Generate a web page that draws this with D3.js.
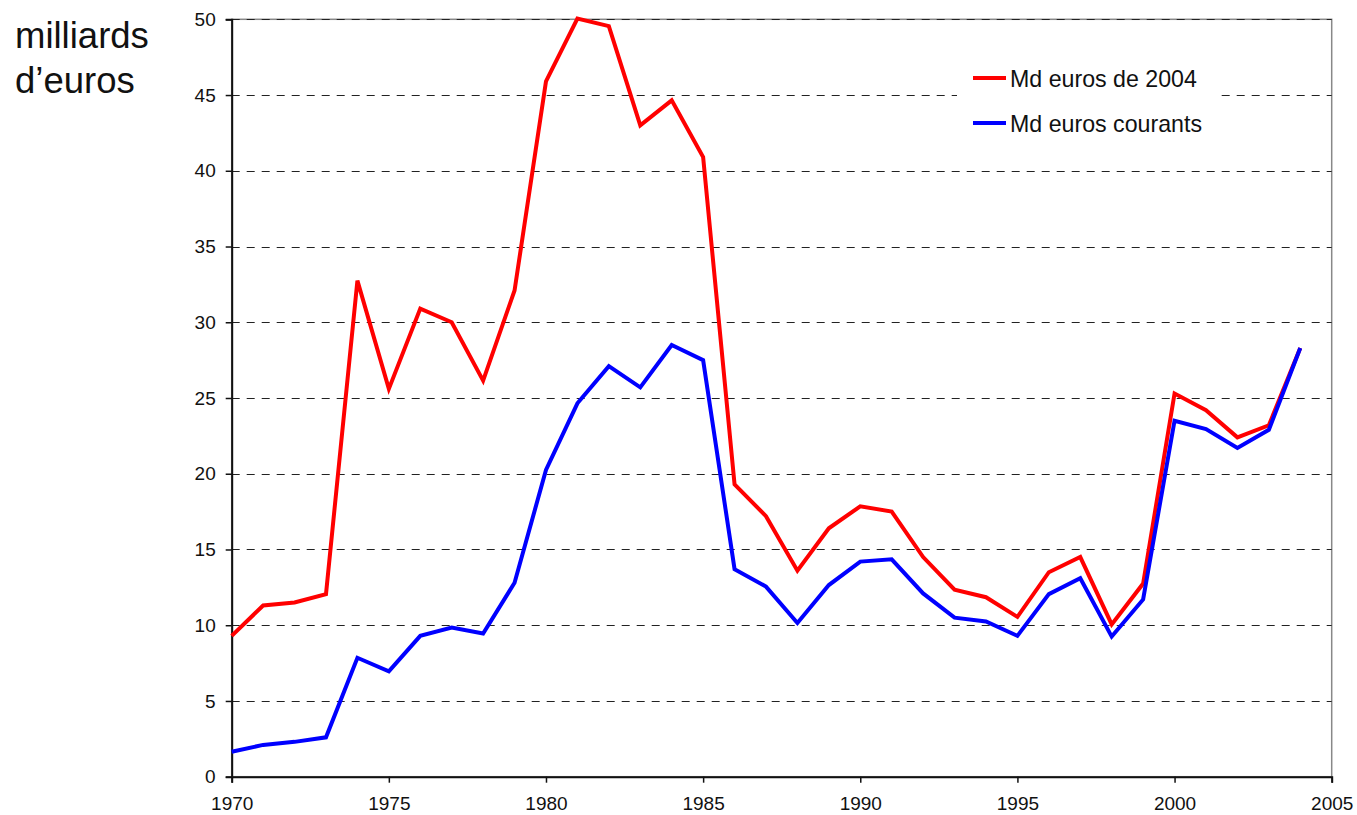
<!DOCTYPE html>
<html>
<head>
<meta charset="utf-8">
<script src="https://cdn.jsdelivr.net/npm/d3@7"></script>
<style>
  html, body { margin: 0; padding: 0; background: #fff; }
  svg { display: block; font-family: "Liberation Sans", Arial, sans-serif; }
</style>
</head>
<body>
<svg id="chart" width="1357" height="815"></svg>
<script>
const years = [1970,1971,1972,1973,1974,1975,1976,1977,1978,1979,1980,1981,1982,1983,1984,1985,1986,1987,1988,1989,1990,1991,1992,1993,1994,1995,1996,1997,1998,1999,2000,2001,2002,2003,2004];
const euros2004 = [9.3,11.3,11.5,12.05,32.75,25.6,30.9,30.0,26.15,32.1,45.9,50.05,49.55,43.0,44.65,40.9,19.3,17.2,13.6,16.4,17.85,17.5,14.5,12.35,11.85,10.55,13.5,14.5,10.05,12.75,25.3,24.2,22.4,23.2,28.3];
const eurosCourants = [1.65,2.1,2.3,2.6,7.85,6.95,9.3,9.85,9.45,12.8,20.25,24.65,27.1,25.7,28.5,27.5,13.7,12.55,10.15,12.65,14.2,14.35,12.1,10.5,10.25,9.3,12.05,13.1,9.25,11.7,23.5,22.95,21.7,22.9,28.3];
const xTicks = [1970,1975,1980,1985,1990,1995,2000,2005];
const yTicks = [0,5,10,15,20,25,30,35,40,45,50];
const seriesNames = ["Md euros de 2004", "Md euros courants"];
const seriesColors = ["#ff0000", "#0000ff"];
const yTitle = ["milliards", "d\u2019euros"];

const svg = d3.select("#chart");
const L = 231.7, R = 1331.7, T = 19.3, B = 776.7;

const x = d3.scaleLinear().domain([1970, 2005]).range([L, R]);
const y = d3.scaleLinear().domain([0, 50]).range([B, T]);

// plot border (gray)
svg.append("rect")
  .attr("x", L).attr("y", T).attr("width", R - L).attr("height", B - T)
  .attr("fill", "none").attr("stroke", "#888").attr("stroke-width", 1.5);

// gridlines
svg.append("g").selectAll("line")
  .data(yTicks.filter(d => d > 0))
  .join("line")
  .attr("x1", L).attr("x2", R)
  .attr("y1", d => Math.round(y(d)) + 0.5).attr("y2", d => Math.round(y(d)) + 0.5)
  .attr("stroke", "#222").attr("stroke-width", 1)
  .attr("stroke-dasharray", "8,7");

// axes
const yAxis = d3.axisLeft(y).tickValues(yTicks).tickSize(6).tickPadding(10).tickFormat(d3.format("d"));
const gy = svg.append("g").attr("transform", `translate(${L},0)`).call(yAxis);
gy.select(".domain").attr("stroke", "#111").attr("stroke-width", 2);
gy.selectAll(".tick line").attr("stroke", "#111").attr("stroke-width", 1.5);
gy.selectAll(".tick text").attr("font-size", 19).attr("fill", "#111").attr("font-family", "Liberation Sans, Arial, sans-serif");

const xAxis = d3.axisBottom(x).tickValues(xTicks).tickSize(6).tickPadding(14).tickFormat(d3.format("d"));
const gx = svg.append("g").attr("transform", `translate(0,${B})`).call(xAxis);
gx.select(".domain").attr("stroke", "#111").attr("stroke-width", 2);
gx.selectAll(".tick line").attr("stroke", "#111").attr("stroke-width", 1.5);
gx.selectAll(".tick text").attr("font-size", 19).attr("fill", "#111").attr("font-family", "Liberation Sans, Arial, sans-serif");

// lines
const line = d3.line().x((d, i) => x(years[i])).y(d => y(d));
[euros2004, eurosCourants].forEach((s, k) => {
  svg.append("path")
    .datum(s)
    .attr("d", line)
    .attr("fill", "none")
    .attr("stroke", seriesColors[k])
    .attr("stroke-width", 4)
    .attr("stroke-linejoin", "miter");
});

// legend
const lg = svg.append("g");
lg.append("rect").attr("x", 957).attr("y", 50).attr("width", 262).attr("height", 100).attr("fill", "#fff");
seriesNames.forEach((name, i) => {
  const cy = 78 + i * 45;
  lg.append("line").attr("x1", 973).attr("x2", 1006).attr("y1", cy).attr("y2", cy)
    .attr("stroke", seriesColors[i]).attr("stroke-width", 4);
  lg.append("text").attr("x", 1010).attr("y", cy + 8.5)
    .attr("font-size", 23.2).attr("fill", "#111").text(name);
});

// y title
svg.append("g").selectAll("text").data(yTitle).join("text")
  .attr("x", 15).attr("y", (d, i) => 48 + i * 45)
  .attr("font-size", 36.5).attr("fill", "#111").text(d => d);
</script>
</body>
</html>
